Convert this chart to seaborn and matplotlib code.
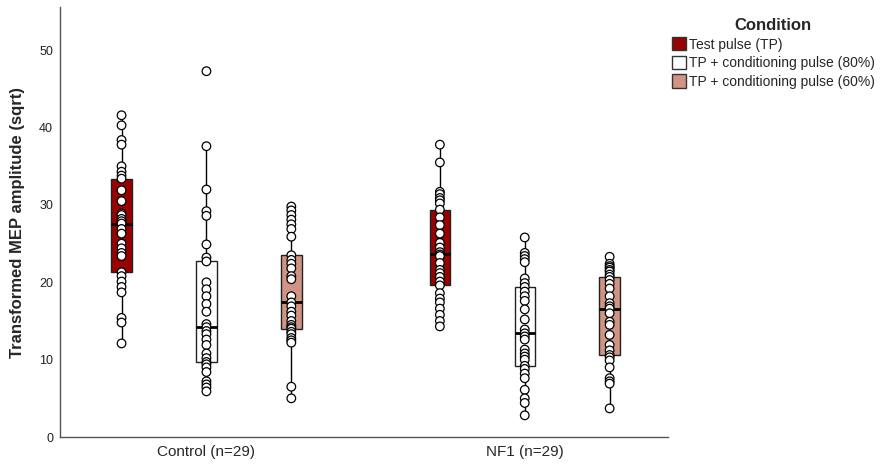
import numpy as np
import pandas as pd
import matplotlib
matplotlib.use("Agg")
import matplotlib.pyplot as plt
from matplotlib.patches import Patch
import seaborn as sns

groups = ["Control (n=29)", "NF1 (n=29)"]
conditions = ["Test pulse (TP)", "TP + conditioning pulse (80%)", "TP + conditioning pulse (60%)"]
colors = ["#990000", "#ffffff", "#cf9483"]

control_tp = [41.6, 40.3, 38.4, 37.8, 35.0, 34.3, 33.8, 33.4, 31.9, 30.5, 28.9, 28.7,
              28.2, 27.9, 27.6, 26.9, 26.3, 25.0, 24.4, 23.8, 23.4, 21.3, 20.8, 20.1,
              19.4, 18.7, 15.4, 14.8, 12.1]
control_80 = [47.3, 37.6, 32.0, 29.2, 28.6, 24.9, 23.2, 22.7, 20.0, 19.1, 18.2, 17.2,
              16.2, 14.6, 14.2, 13.7, 13.3, 12.6, 11.9, 10.8, 10.2, 9.7, 9.4, 9.0,
              8.4, 7.2, 6.8, 6.4, 5.9]
control_60 = [29.8, 29.3, 28.7, 28.1, 27.5, 26.9, 25.9, 23.5, 22.9, 22.4, 21.8, 20.8,
              20.4, 18.2, 17.4, 16.9, 16.2, 15.7, 15.0, 14.5, 14.2, 14.0, 13.6, 13.3,
              12.8, 12.5, 12.2, 6.5, 5.0]
nf1_tp = [37.8, 35.5, 31.7, 31.4, 30.9, 30.6, 30.2, 29.4, 28.4, 27.4, 26.3, 25.1,
          24.5, 23.9, 23.6, 23.4, 22.5, 21.6, 21.2, 20.7, 20.1, 19.6, 18.6, 17.9,
          17.4, 16.6, 15.8, 15.0, 14.3]
nf1_80 = [25.8, 23.8, 23.4, 23.0, 22.6, 20.5, 19.9, 19.4, 18.8, 18.2, 17.6, 16.5,
          15.2, 13.9, 13.4, 13.0, 12.6, 11.3, 10.8, 10.4, 10.0, 9.2, 8.8, 8.2,
          7.6, 6.1, 5.0, 4.4, 2.8]
nf1_60 = [23.3, 22.4, 22.1, 21.9, 21.6, 21.4, 21.0, 20.7, 20.3, 19.8, 19.2, 18.2,
          17.3, 16.9, 16.6, 16.0, 14.9, 14.5, 13.2, 11.9, 11.2, 10.6, 10.3, 9.9,
          9.0, 7.6, 7.2, 6.9, 3.7]

series = {
    (groups[0], conditions[0]): control_tp,
    (groups[0], conditions[1]): control_80,
    (groups[0], conditions[2]): control_60,
    (groups[1], conditions[0]): nf1_tp,
    (groups[1], conditions[1]): nf1_80,
    (groups[1], conditions[2]): nf1_60,
}
rows = [(g, c, v) for (g, c), vals in series.items() for v in vals]
df = pd.DataFrame(rows, columns=["Group", "Condition", "Amplitude"])

sns.set_theme(style="white")
plt.rcParams["font.family"] = ["Liberation Sans", "DejaVu Sans"]

fig = plt.figure(figsize=(8.81, 4.66), dpi=100)
ax = fig.add_axes([60 / 881, 29 / 466, 608 / 881, 430 / 466])

sns.boxplot(
    data=df, x="Group", y="Amplitude", hue="Condition",
    order=groups, hue_order=conditions, palette=colors, saturation=1,
    width=0.8, gap=0.76, showcaps=False, showfliers=False, whis=1.5,
    linecolor="#222222", linewidth=1.0,
    medianprops={"color": "black", "linewidth": 2.0},
    whiskerprops={"color": "black", "linewidth": 1.0},
    legend=False, ax=ax,
)
sns.stripplot(
    data=df, x="Group", y="Amplitude", hue="Condition",
    order=groups, hue_order=conditions, palette=["white"] * 3,
    dodge=True, jitter=False, size=6.2, linewidth=0.9, edgecolor="black",
    legend=False, zorder=5, ax=ax,
)

ax.set_xlim(-0.46, 1.45)
ax.set_ylim(0, 55.6)
ax.set_yticks([0, 10, 20, 30, 40, 50])
ax.set_xlabel("")
ax.set_ylabel("Transformed MEP amplitude (sqrt)", fontsize=12, fontweight="bold", labelpad=10)
ax.tick_params(axis="y", length=0, labelsize=9, pad=5, labelcolor="#222222")
ax.tick_params(axis="x", length=0, labelsize=11, pad=6)
for side in ["top", "right"]:
    ax.spines[side].set_visible(False)
for side in ["left", "bottom"]:
    ax.spines[side].set_color("#555555")
    ax.spines[side].set_linewidth(1.0)

handles = [Patch(facecolor=c, edgecolor="#333333", linewidth=1.0) for c in colors]
fig.legend(
    handles, conditions, loc="upper left", bbox_to_anchor=(665 / 881, 1 - 11 / 466),
    frameon=False, borderpad=0, title="Condition",
    title_fontproperties={"weight": "bold", "size": 12}, fontsize=10,
    handlelength=1.0, handleheight=1.1, handletextpad=0.2, labelspacing=0.3,
)

fig.savefig("out.png", dpi=100)
